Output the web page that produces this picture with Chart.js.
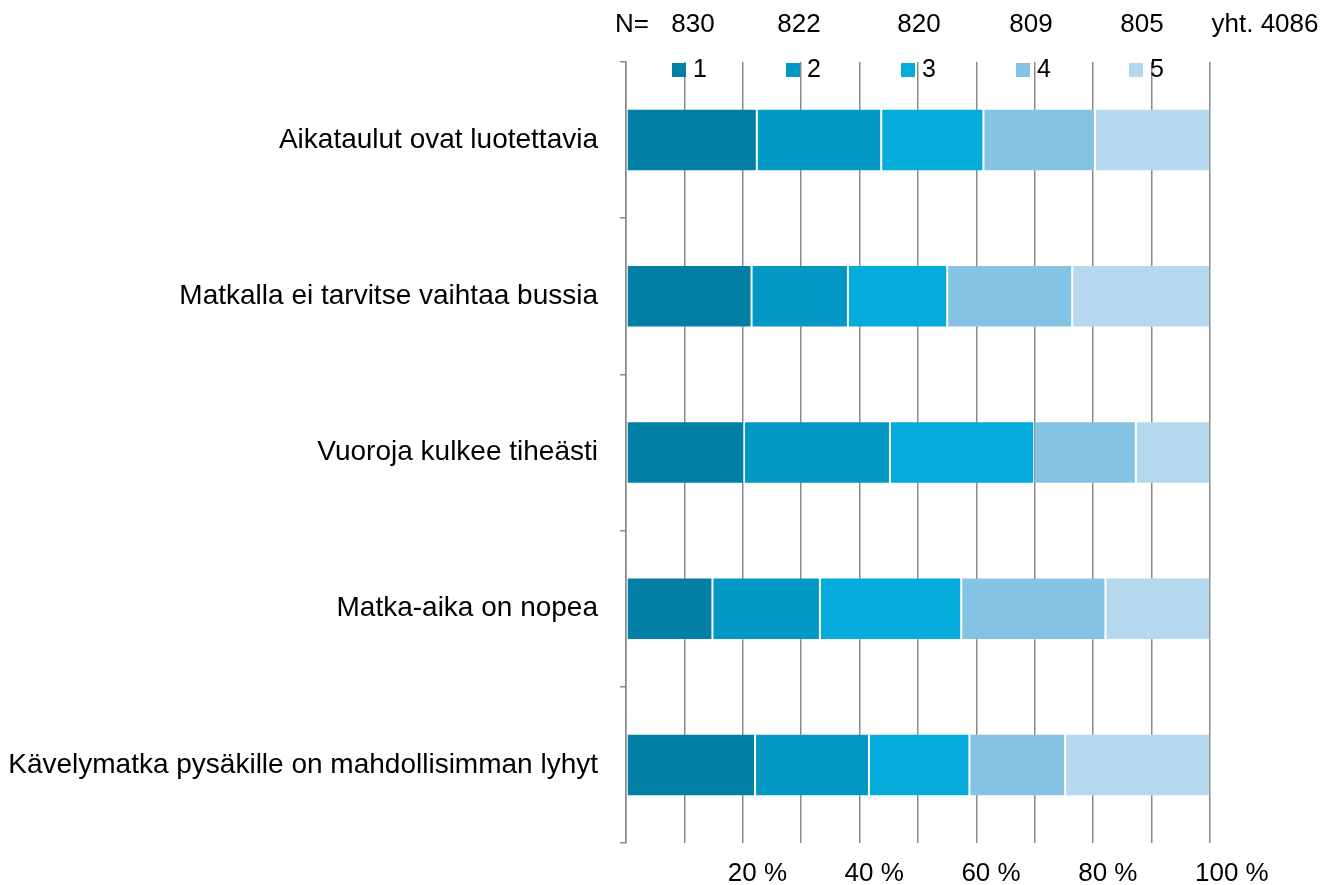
<!DOCTYPE html>
<html>
<head>
<meta charset="utf-8">
<script src="https://cdn.jsdelivr.net/npm/chart.js@4/dist/chart.umd.min.js"></script>
<style>
  html, body { margin: 0; padding: 0; background: #fff; }
  #wrap { width: 1329px; height: 885px; position: relative; }
</style>
</head>
<body>
<div id="wrap"><canvas id="c" width="1329" height="885"></canvas></div>
<script>
const categories = [
  "Aikataulut ovat luotettavia",
  "Matkalla ei tarvitse vaihtaa bussia",
  "Vuoroja kulkee tiheästi",
  "Matka-aika on nopea",
  "Kävelymatka pysäkille on mahdollisimman lyhyt"
];
const seriesNames = ["1", "2", "3", "4", "5"];
const s1 = [22.4, 21.5, 20.2, 14.8, 22.1];
const s2 = [21.3, 16.5, 25.0, 18.4, 19.5];
const s3 = [17.5, 17.0, 24.7, 24.2, 17.2];
const s4 = [19.1, 21.4, 17.4, 24.7, 16.4];
const s5 = [19.7, 23.6, 12.7, 17.9, 24.8];
const nValues = ["830", "822", "820", "809", "805"];
const nTotal = "yht. 4086";
const colors = ["#027fa4", "#0397c3", "#05acdb", "#85c3e5", "#b5d8ee"];

const FONT = "'Liberation Sans', Arial, sans-serif";
const GRID = "#8a8a8a";

const seriesData = [s1, s2, s3, s4, s5];

const topLabels = {
  id: 'topLabels',
  afterDraw(chart) {
    const ctx = chart.ctx;
    ctx.save();
    ctx.fillStyle = '#000';
    ctx.font = "26px " + FONT;
    ctx.textBaseline = 'middle';
    ctx.textAlign = 'center';
    const nx = [693, 799, 919, 1031, 1142];
    ctx.fillText("N=", 632, 25);
    nValues.forEach((v, i) => ctx.fillText(v, nx[i], 25));
    ctx.fillText(nTotal, 1265, 25);
    // legend
    const lx = [672, 786, 901, 1016, 1129];
    ctx.font = "25px " + FONT;
    ctx.textAlign = 'left';
    chart.data.datasets.forEach((ds, i) => {
      ctx.fillStyle = ds.backgroundColor;
      ctx.fillRect(lx[i], 63, 14, 14);
      ctx.fillStyle = '#000';
      ctx.fillText(ds.label, lx[i] + 21, 70);
    });
    ctx.restore();
  }
};

new Chart(document.getElementById('c'), {
  type: 'bar',
  data: {
    labels: categories,
    datasets: seriesData.map((d, i) => ({
      label: seriesNames[i],
      data: d,
      backgroundColor: colors[i],
      borderColor: 'rgba(255,255,255,0.12)',
      borderWidth: 1,
      borderSkipped: false,
      barPercentage: 0.4,
      categoryPercentage: 1.0
    }))
  },
  options: {
    indexAxis: 'y',
    responsive: false,
    animation: false,
    layout: { padding: { top: 62, right: 119, left: 0, bottom: 0 } },
    plugins: {
      legend: { display: false },
      tooltip: { enabled: false },
      title: { display: false }
    },
    scales: {
      x: {
        stacked: true,
        min: 0,
        max: 100,
        afterFit: (s) => { s.height = 42; },
        ticks: {
          stepSize: 10,
          autoSkip: false,
          maxRotation: 0,
          align: 'start',
          labelOffset: -15,
          padding: 15,
          color: '#000',
          font: { family: FONT, size: 26 },
          callback: (v) => (v > 0 && v % 20 === 0) ? v + " %" : ""
        },
        grid: { color: GRID, lineWidth: 1.5, drawTicks: false },
        border: { display: false }
      },
      y: {
        stacked: true,
        afterFit: (s) => { s.width = 626; },
        ticks: {
          padding: 22,
          color: '#000',
          font: { family: FONT, size: 28 }
        },
        grid: { drawOnChartArea: false, offset: true, tickLength: 6, color: GRID, lineWidth: 1.5 },
        border: { display: true, color: GRID, width: 1.5 }
      }
    }
  },
  plugins: [topLabels]
});
</script>
</body>
</html>
